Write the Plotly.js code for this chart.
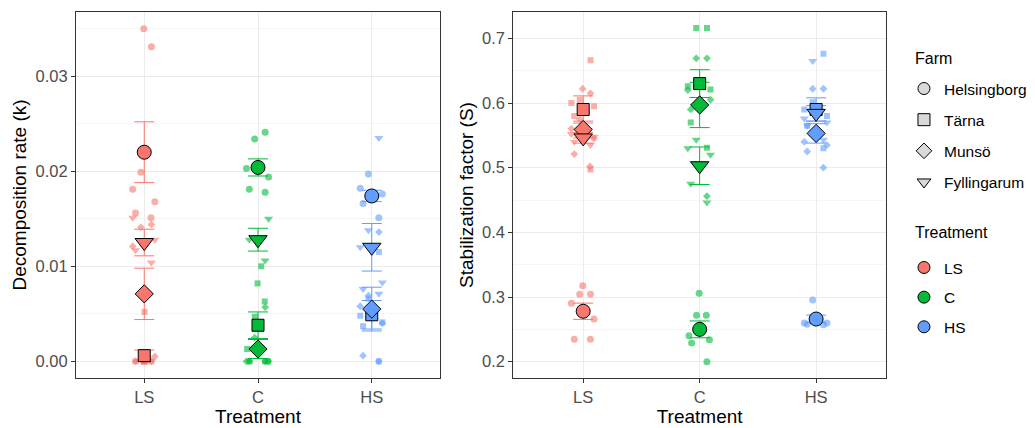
<!DOCTYPE html>
<html>
<head>
<meta charset="utf-8">
<script src="https://cdn.plot.ly/plotly-3.0.1.min.js"></script>
<style>html,body{margin:0;padding:0;background:#fff;}</style>
</head>
<body>
<div id="chart" style="width:1035px;height:428px;"></div>
<script>
// ---------- DATA ----------
const treatments = ['LS', 'C', 'HS'];
const farms = ['Helsingborg', 'Tärna', 'Munsö', 'Fyllingarum'];

// Decomposition rate (k): raw replicate values per farm [Helsingborg, Tärna, Munsö, Fyllingarum]
const k_LS = [
  [0.0350, 0.0331, 0.0199, 0.0181, 0.0168, 0.0156, 0.0151],
  [0.0052, 0, 0, 0, 0, 0, 0, 0],
  [0.0144, 0.0141, 0.0121, 0.0005, 0, 0],
  [0.0151, 0.0128, 0.0117, 0.0104]
];
const k_C = [
  [0.0241, 0.0234, 0.0203, 0.0194, 0.0178, 0.0181],
  [0.0100, 0.0082, 0.0063, 0.0047, 0.0013, 0, 0, 0],
  [0.0057, 0.0025, 0, 0, 0, 0],
  [0.0150, 0.0128, 0.0106]
];
const k_HS = [
  [0.0197, 0.0182, 0.0176, 0.0166, 0.0151],
  [0.0115, 0.0066, 0.0048, 0.0041, 0.0037, 0],
  [0.0136, 0.0069, 0.0058, 0.0040, 0.0006, 0],
  [0.0235, 0.0138, 0.0120, 0.0083, 0.0076, 0.0071]
];
// farm means and standard errors of k
const k_mean_LS = [0.0220, 0.0006, 0.0071, 0.0125];
const k_se_LS   = [0.0032, 0.0006, 0.0027, 0.0014];
const k_mean_C  = [0.0204, 0.0038, 0.0013, 0.0128];
const k_se_C    = [0.0009, 0.0014, 0.0010, 0.0012];
const k_mean_HS = [0.0174, 0.0049, 0.0055, 0.0120];
const k_se_HS   = [0.0006, 0.0015, 0.0023, 0.0025];

// Stabilization factor (S): raw replicate values
const S_LS = [
  [0.3176, 0.3043, 0.3043, 0.2904, 0.2661, 0.2348, 0.2348],
  [0.666, 0.605, 0.600, 0.595, 0.580, 0.497],
  [0.622, 0.615, 0.575, 0.560, 0.545, 0.521, 0.502],
  [0.555, 0.548, 0.540, 0.535, 0.552]
];
const S_C = [
  [0.306, 0.272, 0.272, 0.240, 0.234, 0.229, 0.200],
  [0.716, 0.716, 0.626, 0.621, 0.570, 0.531],
  [0.669, 0.669, 0.620, 0.605, 0.590, 0.456],
  [0.543, 0.530, 0.520, 0.475, 0.446]
];
const S_HS = [
  [0.2955, 0.260, 0.258, 0.260, 0.257],
  [0.676, 0.601, 0.590, 0.580, 0.565, 0.530],
  [0.622, 0.622, 0.540, 0.535, 0.525, 0.500],
  [0.665, 0.576, 0.565, 0.543, 0.570]
];
const S_mean_LS = [0.278, 0.590, 0.559, 0.546];
const S_se_LS   = [0.0126, 0.021, 0.013, 0.008];
const S_mean_C  = [0.250, 0.630, 0.597, 0.503];
const S_se_C    = [0.013, 0.0215, 0.035, 0.029];
const S_mean_HS = [0.266, 0.590, 0.553, 0.584];
const S_se_HS   = [0.006, 0.018, 0.015, 0.012];

// ---------- STYLE ----------
const colors = {LS: '#F8766D', C: '#00BA38', HS: '#619CFF'};
const symbols = ['circle', 'square', 'diamond', 'triangle-down'];
const meanSizes = [14, 12, 14, 16];
const rawSizes = [7, 6, 6, 8];

const panels = [
  {xa: 'x', ya: 'y', raw: {LS: k_LS, C: k_C, HS: k_HS},
   mean: {LS: k_mean_LS, C: k_mean_C, HS: k_mean_HS},
   se: {LS: k_se_LS, C: k_se_C, HS: k_se_HS}},
  {xa: 'x2', ya: 'y2', raw: {LS: S_LS, C: S_C, HS: S_HS},
   mean: {LS: S_mean_LS, C: S_mean_C, HS: S_mean_HS},
   se: {LS: S_se_LS, C: S_se_C, HS: S_se_HS}}
];

const traces = [];
panels.forEach(p => {
  treatments.forEach((t, ti) => {
    farms.forEach((f, fi) => {
      traces.push({
        type: 'box', xaxis: p.xa, yaxis: p.ya,
        x0: ti + 1, y: p.raw[t][fi],
        boxpoints: 'all', jitter: 1, pointpos: 0, width: 0.24,
        line: {width: 0, color: 'rgba(0,0,0,0)'}, fillcolor: 'rgba(0,0,0,0)',
        marker: {symbol: symbols[fi], size: rawSizes[fi], color: colors[t], opacity: 0.6, line: {width: 0}},
        showlegend: false, hoverinfo: 'y'
      });
    });
  });
  treatments.forEach((t, ti) => {
    traces.push({
      type: 'scatter', mode: 'markers', xaxis: p.xa, yaxis: p.ya,
      x: farms.map(() => ti + 1), y: p.mean[t],
      error_y: {type: 'data', array: p.se[t], visible: true, color: colors[t], thickness: 1, width: 10},
      marker: {symbol: symbols, size: meanSizes, color: colors[t], opacity: 1, line: {color: '#000', width: 1}},
      showlegend: false, text: farms, hoverinfo: 'text+y'
    });
  });
});

// legend entries
farms.forEach((f, fi) => {
  traces.push({
    type: 'scatter', mode: 'markers', x: [null], y: [null], name: f,
    legend: 'legend', legendgroup: 'farm' + fi,
    marker: {symbol: symbols[fi], size: 12, color: '#D9D9D9', opacity: 1, line: {color: '#000', width: 1}}
  });
});
treatments.forEach((t, ti) => {
  traces.push({
    type: 'scatter', mode: 'markers', x: [null], y: [null], name: t,
    legend: 'legend2', legendgroup: 'trt' + ti,
    marker: {symbol: 'circle', size: 12, color: colors[t], opacity: 1, line: {color: '#000', width: 1}}
  });
});

const frame = {
  showline: true, mirror: true, linecolor: '#333333', linewidth: 1,
  ticks: 'outside', ticklen: 4, tickcolor: '#333333', tickwidth: 1,
  showgrid: true, gridcolor: '#EBEBEB', gridwidth: 1, zeroline: false,
  tickfont: {size: 16.5, color: '#4D4D4D'}
};
const xCat = Object.assign({}, frame, {
  range: [0.4, 3.6], tickmode: 'array', tickvals: [1, 2, 3], ticktext: treatments,
  title: {text: 'Treatment', font: {size: 19, color: '#000'}, standoff: 3}
});

const layout = {
  width: 1035, height: 428,
  margin: {l: 76, r: 149, t: 12, b: 50, autoexpand: false},
  paper_bgcolor: '#fff', plot_bgcolor: '#fff',
  font: {family: 'Liberation Sans, Arial, sans-serif', color: '#000'},
  boxmode: 'overlay',
  xaxis: Object.assign({}, xCat, {domain: [0, 0.4494], anchor: 'y'}),
  xaxis2: Object.assign({}, xCat, {domain: [0.5399, 1], anchor: 'y2'}),
  yaxis: Object.assign({}, frame, {
    anchor: 'x', range: [-0.00175, 0.03675], tickmode: 'linear', tick0: 0, dtick: 0.01, tickformat: '.2f',
    minor: {showgrid: true, gridcolor: '#EBEBEB', gridwidth: 0.5, dtick: 0.005, tick0: 0},
    title: {text: 'Decomposition rate (k)', font: {size: 19, color: '#000'}, standoff: 3}
  }),
  yaxis2: Object.assign({}, frame, {
    anchor: 'x2', range: [0.1748, 0.7407], tickmode: 'linear', tick0: 0.2, dtick: 0.1, tickformat: '.1f',
    minor: {showgrid: true, gridcolor: '#EBEBEB', gridwidth: 0.5, dtick: 0.05, tick0: 0.2},
    title: {text: 'Stabilization factor (S)', font: {size: 19, color: '#000'}, standoff: 3}
  }),
  legend: {
    x: 1.0222, xanchor: 'left', y: 0.8362, yanchor: 'top', traceorder: 'grouped', tracegroupgap: 8,
    font: {size: 15.5}, bgcolor: 'rgba(0,0,0,0)'
  },
  legend2: {
    x: 1.0222, xanchor: 'left', y: 0.3472, yanchor: 'top', traceorder: 'grouped', tracegroupgap: 6.5,
    font: {size: 15.5}, bgcolor: 'rgba(0,0,0,0)'
  },
  annotations: [
    {text: 'Farm', xref: 'paper', yref: 'paper', x: 1.0333, xanchor: 'left', y: 0.8743, yanchor: 'middle',
     showarrow: false, font: {size: 16, color: '#000'}},
    {text: 'Treatment', xref: 'paper', yref: 'paper', x: 1.0333, xanchor: 'left', y: 0.3962, yanchor: 'middle',
     showarrow: false, font: {size: 16, color: '#000'}}
  ]
};

Plotly.newPlot('chart', traces, layout, {displayModeBar: false, staticPlot: true});
</script>
</body>
</html>
